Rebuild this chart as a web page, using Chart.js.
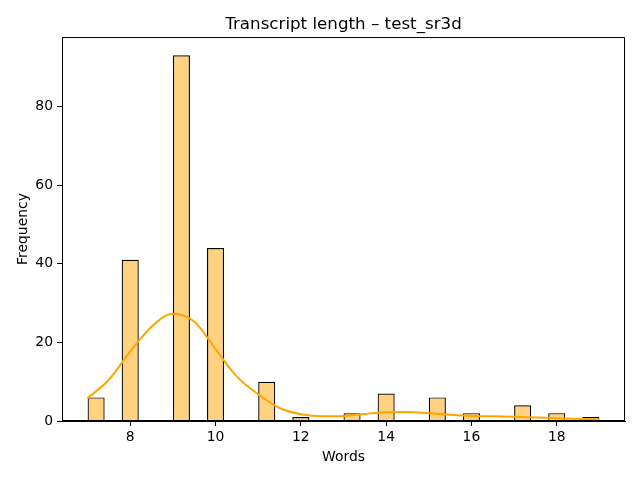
<!DOCTYPE html>
<html>
<head>
<meta charset="utf-8">
<script src="https://cdn.jsdelivr.net/npm/chart.js@4/dist/chart.umd.min.js"></script>
<style>
	html, body { margin: 0; padding: 0; background: #fff; }
	#wrap { width: 640px; height: 480px; }
</style>
</head>
<body>
<div id="wrap"><canvas id="hist" width="640" height="480"></canvas></div>
<script>
// histogram bins (centre of each non-empty bin) and counts
const binCenters = [7.2, 8.0, 9.2, 10.0, 11.2, 12.0, 13.2, 14.0, 15.2, 16.0, 17.2, 18.0, 18.8]
const counts = [6, 41, 93, 44, 10, 1, 2, 7, 6, 2, 4, 2, 1]

// kde curve
const kdeX = [7, 7.5, 8, 8.5, 9, 9.5, 10, 10.5, 11, 11.5, 12, 12.5, 13, 13.5, 14, 14.5, 15, 15.5, 16, 16.5, 17, 17.5, 18, 18.5, 19]
const kdeY = [5.8, 10.5, 17.7, 24.0, 27.3, 25.3, 18.3, 11.3, 6.8, 3.3, 1.7, 1.2, 1.3, 1.8, 2.2, 2.3, 2.0, 1.6, 1.3, 1.2, 1.1, 0.9, 0.7, 0.5, 0.4]

const xTicks = [8, 10, 12, 14, 16, 18]
const yTicks = [0, 20, 40, 60, 80]

const FONT = 'DejaVu Sans'

// box around the plot + title centred over the plot area, like matplotlib
const frame = {
	id: 'frame',
	afterLayout(chart) {
		if (chart.titleBlock) {
			chart.titleBlock.left = chart.chartArea.left
			chart.titleBlock.right = chart.chartArea.right
		}
	},
	afterDatasetsDraw(chart) {
		const a = chart.chartArea
		const ctx = chart.ctx
		ctx.save()
		ctx.strokeStyle = '#000'
		ctx.lineWidth = 1
		ctx.strokeRect(a.left + 0.5, a.top + 0.5, a.right - a.left - 1, a.bottom - a.top - 1)
		ctx.restore()
	},
}

function renderHist(canvasId) {
	const ctx = document.getElementById(canvasId).getContext('2d')
	return new Chart(ctx, {
		type: 'bar',
		data: {
			datasets: [
				{
					type: 'line',
					label: 'kde',
					data: kdeX.map((x, i) => ({ x: x, y: kdeY[i] })),
					borderColor: '#ffa500',
					borderWidth: 2,
					pointRadius: 0,
					cubicInterpolationMode: 'monotone',
					fill: false,
					order: 0,
				},
				{
					type: 'bar',
					label: 'count',
					data: binCenters.map((x, i) => ({ x: x, y: counts[i] })),
					backgroundColor: 'rgba(255, 165, 0, 0.5)',
					borderColor: '#000',
					borderWidth: 1.2,
					barPercentage: 0.5,
					categoryPercentage: 1.0,
					order: 1,
				},
			],
		},
		options: {
			responsive: false,
			animation: false,
			layout: { padding: { left: 0, right: 15, top: 0, bottom: 0 } },
			scales: {
				x: {
					type: 'linear',
					offset: false,
					min: 6.4,
					max: 19.6,
					afterBuildTicks: (s) => { s.ticks = xTicks.map((v) => ({ value: v })) },
					afterFit: (s) => { s.height = 59 },
					grid: { offset: false, drawOnChartArea: false, drawTicks: true, tickLength: 5, color: '#000' },
					border: { display: true, color: '#000' },
					ticks: { color: '#000', padding: 3, maxRotation: 0, font: { family: FONT, size: 13.9 } },
					title: { display: true, text: 'Words', color: '#000', padding: { top: 14, bottom: 14 }, font: { family: FONT, size: 13.9 } },
				},
				y: {
					min: 0,
					max: 97.65,
					afterBuildTicks: (s) => { s.ticks = yTicks.map((v) => ({ value: v })) },
					afterFit: (s) => { s.width = 62 },
					grid: { drawOnChartArea: false, drawTicks: true, tickLength: 5, color: '#000' },
					border: { display: true, color: '#000' },
					ticks: { color: '#000', padding: 4, font: { family: FONT, size: 13.9 } },
					title: { display: true, text: 'Frequency', color: '#000', padding: { top: 15, bottom: 15 }, font: { family: FONT, size: 13.9 } },
				},
			},
			plugins: {
				legend: { display: false },
				tooltip: { enabled: false },
				title: {
					display: true,
					text: 'Transcript length – test_sr3d',
					color: '#000',
					padding: { top: 15, bottom: 2 },
					font: { family: FONT, size: 16.7, weight: 'normal' },
				},
			},
		},
		plugins: [frame],
	})
}

renderHist('hist')
</script>
</body>
</html>
